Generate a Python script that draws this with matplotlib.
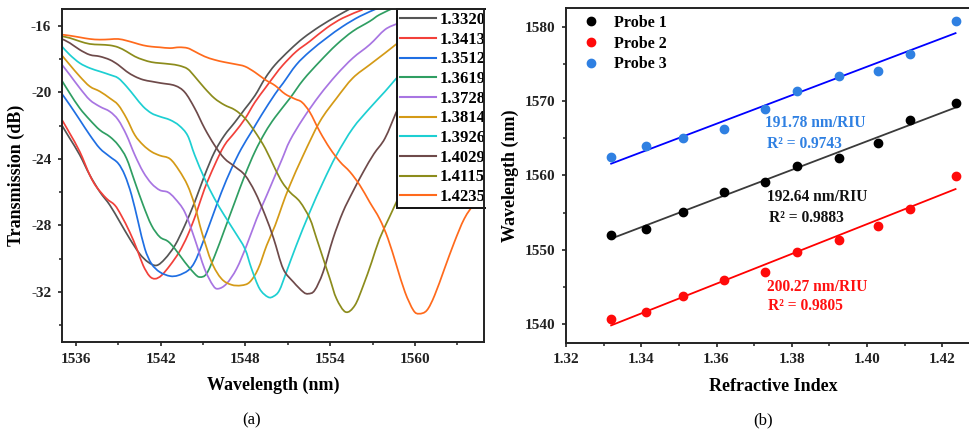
import numpy as np
import matplotlib
matplotlib.use("Agg")
import matplotlib.pyplot as plt
from matplotlib.path import Path
from matplotlib.patches import PathPatch, Rectangle
from matplotlib.lines import Line2D
from matplotlib.ticker import MultipleLocator

plt.rcParams["font.family"] = ["Liberation Serif", "DejaVu Serif"]
plt.rcParams["font.weight"] = "bold"
plt.rcParams["axes.unicode_minus"] = False

# ---------------- (a) transmission spectra ----------------
ri_labels = ["1.3320", "1.3413", "1.3512", "1.3619", "1.3728",
             "1.3814", "1.3926", "1.4029", "1.4115", "1.4235"]
spec_colors = ["#555555", "#F2403A", "#1F6FE3", "#2F9E62", "#A875E2",
               "#D49A16", "#1DCFD2", "#6E4A4A", "#8C8C1C", "#FF6A1C"]

wl_1_3320 = [1535.0, 1535.55, 1536.26, 1536.97, 1537.68, 1538.39, 1539.1, 1539.8, 1540.5, 1541.1,
             1541.7, 1542.3, 1543.0, 1543.7, 1544.4, 1545.1, 1545.8, 1546.5, 1547.25, 1547.96,
             1548.67, 1549.4, 1550.1, 1551.15, 1552.1, 1553.27, 1554.45, 1555.3, 1556.0]
tr_1_3320 = [-22.0, -22.77, -23.77, -24.98, -25.98, -26.78, -27.79, -28.8, -29.7, -30.2,
             -30.4, -30.0, -29.2, -28.0, -26.6, -25.0, -23.6, -22.6, -21.8, -21.0,
             -20.2, -19.15, -18.35, -17.45, -16.74, -16.04, -15.44, -15.04, -14.7]

wl_1_3413 = [1535.0, 1535.55, 1536.26, 1536.97, 1537.44, 1538.15, 1538.74, 1539.2, 1539.8, 1540.3,
             1540.75, 1541.2, 1541.6, 1542.05, 1542.65, 1543.3, 1543.9, 1544.5, 1545.1, 1545.8,
             1546.5, 1547.25, 1547.96, 1548.67, 1549.4, 1550.1, 1550.67, 1551.6, 1552.56, 1553.75,
             1554.9, 1556.3]
tr_1_3413 = [-21.66, -22.47, -23.57, -24.98, -25.68, -26.38, -26.78, -27.4, -28.4, -29.4,
             -30.4, -31.04, -31.2, -31.0, -30.4, -29.6, -28.6, -27.3, -25.8, -24.4,
             -23.2, -22.4, -21.6, -20.6, -19.75, -18.95, -18.35, -17.55, -16.94, -16.14,
             -15.54, -15.04]

wl_1_3512 = [1535.0, 1535.55, 1536.26, 1536.97, 1537.68, 1538.39, 1538.98, 1539.45, 1539.93, 1540.4,
             1540.87, 1541.34, 1541.93, 1542.65, 1543.23, 1543.94, 1544.4, 1544.9, 1545.6, 1546.3,
             1547.0, 1547.7, 1548.43, 1549.14, 1550.1, 1550.67, 1551.6, 1552.56, 1553.75, 1554.9,
             1556.1, 1557.3]
tr_1_3512 = [-20.1, -20.76, -21.66, -22.57, -23.37, -23.87, -24.27, -24.98, -26.18, -27.8,
             -29.4, -30.3, -30.8, -31.04, -31.0, -30.7, -30.2, -29.2, -27.6, -26.0,
             -24.6, -23.4, -22.37, -21.36, -20.1, -19.45, -18.35, -17.55, -16.74, -16.04,
             -15.44, -14.98]

wl_1_3619 = [1535.0, 1535.55, 1536.26, 1536.97, 1537.68, 1538.39, 1538.98, 1539.57, 1540.16, 1540.75,
             1541.34, 1541.93, 1542.5, 1543.0, 1543.7, 1544.4, 1544.77, 1545.24, 1545.83, 1546.54,
             1547.25, 1547.96, 1548.67, 1549.4, 1550.1, 1551.15, 1552.1, 1553.27, 1554.45, 1555.6,
             1556.8, 1557.5, 1558.6]
tr_1_3619 = [-19.31, -20.06, -20.96, -21.66, -22.27, -22.67, -23.17, -23.97, -25.38, -26.78,
             -27.99, -28.69, -28.95, -29.4, -30.2, -30.9, -31.1, -30.9, -29.8, -28.2,
             -26.58, -24.98, -23.57, -22.4, -21.5, -20.36, -19.25, -18.15, -17.14, -16.34,
             -15.74, -15.34, -14.9]

wl_1_3728 = [1535.0, 1535.55, 1536.26, 1536.97, 1537.68, 1538.39, 1538.98, 1539.57, 1540.16, 1540.75,
             1541.34, 1541.93, 1542.5, 1543.0, 1543.7, 1544.4, 1545.1, 1545.7, 1546.07, 1546.66,
             1547.37, 1548.08, 1548.79, 1549.5, 1550.1, 1550.6, 1551.15, 1552.1, 1553.27, 1554.45,
             1555.6, 1556.8, 1557.88, 1558.7]
tr_1_3728 = [-18.35, -18.95, -19.75, -20.46, -20.86, -21.16, -21.66, -22.57, -23.77, -24.78,
             -25.48, -25.88, -26.0, -26.38, -27.2, -28.8, -30.6, -31.6, -31.8, -31.5,
             -30.6, -29.2, -27.6, -26.2, -25.0, -24.0, -22.9, -21.56, -20.16, -18.95,
             -17.95, -17.14, -16.24, -15.9]

wl_1_3814 = [1535.0, 1535.55, 1536.26, 1536.97, 1537.68, 1538.39, 1538.98, 1539.57, 1540.16, 1540.75,
             1541.34, 1541.93, 1542.65, 1543.3, 1543.9, 1544.4, 1544.9, 1545.6, 1546.3, 1547.0,
             1547.7, 1548.3, 1548.9, 1549.5, 1550.1, 1550.6, 1551.15, 1552.1, 1553.27, 1554.45,
             1555.6, 1556.8, 1557.88, 1558.7]
tr_1_3814 = [-17.79, -18.35, -19.05, -19.65, -19.95, -20.36, -20.76, -21.56, -22.57, -23.17,
             -23.57, -23.8, -24.0, -24.7, -25.6, -26.78, -28.39, -30.2, -31.2, -31.56,
             -31.6, -31.4, -30.6, -29.2, -28.0, -26.8, -25.58, -23.77, -21.76, -20.36,
             -19.15, -18.35, -17.65, -17.1]

wl_1_3926 = [1535.0, 1535.55, 1536.26, 1536.97, 1537.68, 1538.39, 1538.98, 1539.57, 1540.16, 1540.75,
             1541.34, 1541.93, 1542.65, 1543.3, 1543.9, 1544.4, 1545.1, 1545.8, 1546.5, 1547.25,
             1547.96, 1548.43, 1549.0, 1549.6, 1550.0, 1550.4, 1550.9, 1551.6, 1552.56, 1553.51,
             1554.45, 1555.6, 1556.8, 1557.88, 1558.7]
tr_1_3926 = [-17.25, -17.75, -18.25, -18.55, -18.75, -18.95, -19.15, -19.65, -20.26, -20.86,
             -21.26, -21.46, -21.66, -22.0, -22.6, -23.77, -25.18, -26.38, -27.39, -28.39,
             -29.4, -30.6, -31.8, -32.3, -32.25, -31.9, -30.8, -29.2, -27.19, -25.38,
             -23.77, -22.17, -20.96, -19.96, -19.15]

wl_1_4029 = [1535.0, 1535.55, 1536.26, 1536.97, 1537.68, 1538.39, 1538.98, 1539.57, 1540.16, 1540.75,
             1541.34, 1542.0, 1543.0, 1543.7, 1544.4, 1545.1, 1545.8, 1546.5, 1547.25, 1547.96,
             1548.67, 1549.4, 1550.0, 1550.67, 1551.4, 1552.1, 1552.45, 1552.9, 1553.5, 1554.2,
             1554.9, 1555.6, 1556.35, 1557.1, 1557.88, 1558.7]
tr_1_4029 = [-16.8, -17.04, -17.45, -17.75, -17.85, -18.05, -18.35, -18.75, -19.05, -19.25,
             -19.35, -19.45, -19.6, -20.0, -20.96, -22.16, -23.17, -23.97, -24.47, -24.98,
             -25.98, -27.4, -28.8, -30.6, -31.4, -32.0, -32.1, -31.9, -30.8, -28.8,
             -27.2, -25.98, -24.78, -23.7, -22.77, -21.16]

wl_1_4115 = [1535.0, 1535.55, 1536.26, 1536.97, 1537.68, 1538.39, 1538.98, 1539.57, 1540.16, 1540.75,
             1541.34, 1541.93, 1542.65, 1543.3, 1543.9, 1544.4, 1545.1, 1545.8, 1546.5, 1547.25,
             1547.96, 1548.67, 1549.4, 1550.1, 1550.6, 1551.15, 1551.86, 1552.56, 1553.04, 1553.51,
             1553.98, 1554.45, 1555.1, 1555.75, 1556.35, 1556.94, 1557.5, 1558.2, 1558.8]
tr_1_4115 = [-16.64, -16.74, -16.94, -17.1, -17.14, -17.18, -17.3, -17.55, -17.85, -18.05,
             -18.19, -18.25, -18.31, -18.4, -18.6, -19.05, -19.75, -20.36, -20.76, -21.06,
             -21.56, -22.37, -23.37, -24.6, -25.4, -26.0, -26.58, -27.59, -28.79, -30.0,
             -31.2, -32.4, -33.2, -32.8, -31.6, -30.2, -28.8, -27.5, -26.4]

wl_1_4235 = [1535.0, 1535.55, 1536.26, 1536.97, 1537.68, 1538.39, 1538.98, 1539.57, 1540.16, 1540.75,
             1541.34, 1541.93, 1542.65, 1543.3, 1543.9, 1544.4, 1545.1, 1545.8, 1546.5, 1547.25,
             1547.96, 1548.67, 1549.4, 1550.1, 1550.8, 1551.5, 1552.0, 1552.56, 1553.27, 1553.98,
             1554.69, 1555.4, 1556.1, 1556.8, 1557.5, 1558.1, 1558.7, 1559.3, 1559.9, 1560.3,
             1560.85, 1561.4, 1562.1, 1562.8, 1563.5, 1564.26, 1564.9]
tr_1_4235 = [-16.54, -16.6, -16.7, -16.8, -16.84, -16.82, -16.8, -16.9, -17.04, -17.18,
             -17.26, -17.3, -17.35, -17.3, -17.35, -17.55, -17.85, -18.05, -18.19, -18.31,
             -18.45, -18.8, -19.25, -19.6, -20.1, -20.4, -20.6, -21.2, -22.37, -23.37,
             -24.17, -24.78, -25.58, -26.6, -27.6, -28.8, -30.4, -32.0, -33.1, -33.3,
             -33.1, -32.2, -30.6, -29.0, -27.6, -26.58, -25.5]

spectra = [(wl_1_3320, tr_1_3320), (wl_1_3413, tr_1_3413), (wl_1_3512, tr_1_3512),
           (wl_1_3619, tr_1_3619), (wl_1_3728, tr_1_3728), (wl_1_3814, tr_1_3814),
           (wl_1_3926, tr_1_3926), (wl_1_4029, tr_1_4029), (wl_1_4115, tr_1_4115),
           (wl_1_4235, tr_1_4235)]

# ---------------- (b) dip wavelength vs refractive index ----------------
refractive_index = [1.3320, 1.3413, 1.3512, 1.3619, 1.3728, 1.3814, 1.3926, 1.4029, 1.4115, 1.4235]
probe1 = [1552.0, 1552.75, 1555.1, 1557.7, 1559.1, 1561.25, 1562.3, 1564.4, 1567.5, 1569.7]
probe2 = [1540.75, 1541.65, 1543.75, 1545.9, 1547.0, 1549.7, 1551.3, 1553.2, 1555.5, 1559.9]
probe3 = [1562.5, 1563.9, 1564.97, 1566.2, 1568.9, 1571.4, 1573.3, 1574.0, 1576.3, 1580.75]
sensitivity = [192.64, 200.27, 191.78]
r_squared = ["0.9883", "0.9805", "0.9743"]
probe_names = ["Probe 1", "Probe 2", "Probe 3"]
point_colors = ["#000000", "#FF0A0A", "#2F80E2"]
fit_colors = ["#3A3A3A", "#FF0000", "#0000FF"]
text_colors = ["#111111", "#FF1010", "#2F80E2"]


def smooth_path(x, y):
    """Catmull-Rom style cubic Bezier path through the given points."""
    pts = np.column_stack([x, y]).astype(float)
    n = len(pts)
    verts = [pts[0]]
    codes = [Path.MOVETO]
    for i in range(n - 1):
        p0 = pts[i - 1] if i > 0 else pts[i]
        p1, p2 = pts[i], pts[i + 1]
        p3 = pts[i + 2] if i + 2 < n else pts[i + 1]
        verts += [p1 + (p2 - p0) / 6.0, p2 - (p3 - p1) / 6.0, p2]
        codes += [Path.CURVE4] * 3
    return Path(verts, codes)


W, H = 969, 430
fig = plt.figure(figsize=(W / 100, H / 100), dpi=100)


def axes_px(x0, y0, x1, y1, **kw):
    return fig.add_axes([x0 / W, 1 - y1 / H, (x1 - x0) / W, (y1 - y0) / H], **kw)


def style_axes(ax):
    for s in ax.spines.values():
        s.set_linewidth(1.4)
        s.set_color("#222222")
    ax.tick_params(which="major", direction="out", length=3.2, width=1.2,
                   labelsize=11, pad=4.5, colors="#222222")
    ax.tick_params(which="minor", direction="out", length=2.2, width=1.1, colors="#222222")
    for lab in ax.get_xticklabels() + ax.get_yticklabels():
        lab.set_fontweight("bold")


# ----- panel (a)
ax1 = axes_px(62, 9, 484, 342, zorder=1)
handles = []
for (wl, tr), c, lab in zip(spectra, spec_colors, ri_labels):
    patch = PathPatch(smooth_path(wl, tr), facecolor="none", edgecolor=c, lw=1.25,
                      transform=ax1.transData)
    ax1.add_patch(patch)
    handles.append(Line2D([], [], color=c, lw=1.5, label=lab))
ax1.set_xlim(1535.0, 1564.9)
ax1.set_ylim(-35, -15)
ax1.xaxis.set_major_locator(MultipleLocator(6))
ax1.xaxis.set_minor_locator(MultipleLocator(3))
ax1.set_yticks([-16, -20, -24, -28, -32])
ax1.set_yticks([-18, -22, -26, -30, -34], minor=True)
style_axes(ax1)
ax1.set_xlabel("Wavelength (nm)", fontsize=13, fontweight="bold", labelpad=8)
ax1.set_ylabel("Transmission (dB)", fontsize=13, fontweight="bold", labelpad=4)
ax1.spines["right"].set_zorder(6)
ax1.spines["top"].set_zorder(6)
leg1 = ax1.legend(handles=handles, loc="upper left",
                  bbox_to_anchor=((396.5 - 62) / (484 - 62), 1.0),
                  borderaxespad=0, prop={"size": 12, "weight": "bold"},
                  handlelength=2.2, handletextpad=0.2, labelspacing=0.22,
                  borderpad=0.18, frameon=True, fancybox=False)
leg1.get_frame().set_edgecolor("#111111")
leg1.get_frame().set_linewidth(1.4)
leg1.get_frame().set_alpha(1)

# white strip trimming the overflow right of panel (a)
fig.add_artist(Rectangle((485.5 / W, 1 - 230 / H), (560 - 485.5) / W, 230 / H,
                         transform=fig.transFigure, facecolor="white",
                         edgecolor="none", zorder=2))

# ----- panel (b)
ax2 = axes_px(566, 8, 980, 342.7, zorder=3)
x_ri = np.array(refractive_index)
for ys, slope, pc, fc, tc, name in zip([probe1, probe2, probe3], sensitivity,
                                       point_colors, fit_colors, text_colors, probe_names):
    ys = np.array(ys)
    intercept = ys.mean() - slope * x_ri.mean()
    xf = np.array([x_ri.min(), x_ri.max()])
    ax2.plot(xf, intercept + slope * xf, color=fc, lw=1.3, zorder=2)
    ax2.plot(x_ri, ys, "o", color=pc, ms=6, mec=pc, ls="none", label=name, zorder=3)

# sensitivity / R^2 annotations
ann_pos = [(1.3734, 1557.1, 1.3740, 1554.3),
           (1.3734, 1545.0, 1.3737, 1542.45),
           (1.3729, 1567.0, 1.3734, 1564.2)]
for (x1, y1, x2, y2), slope, r2, tc in zip(ann_pos, sensitivity, r_squared, text_colors):
    ax2.text(x1, y1, f"{slope:.2f} nm/RIU", color=tc, fontsize=11.2,
             fontweight="bold", va="center", ha="left")
    ax2.text(x2, y2, f"R\u00b2 = {r2}", color=tc, fontsize=11.2,
             fontweight="bold", va="center", ha="left")

ax2.set_xlim(1.32, 1.43)
ax2.set_ylim(1537.5, 1582.5)
ax2.xaxis.set_major_locator(MultipleLocator(0.02))
ax2.xaxis.set_minor_locator(MultipleLocator(0.01))
ax2.yaxis.set_major_locator(MultipleLocator(10))
ax2.yaxis.set_minor_locator(MultipleLocator(5))
ax2.xaxis.set_major_formatter(plt.FuncFormatter(lambda v, p: f"{v:.2f}"))
style_axes(ax2)
ax2.set_xlabel("Refractive Index", fontsize=13, fontweight="bold", labelpad=8)
ax2.set_ylabel("Wavelength (nm)", fontsize=13, fontweight="bold", labelpad=4)
leg2 = ax2.legend(loc="upper left", bbox_to_anchor=(12 / 414, 0.994), borderaxespad=0,
                  prop={"size": 11.5, "weight": "bold"}, handlelength=1.0,
                  handletextpad=0.95, labelspacing=0.3, borderpad=0.3, frameon=False)

# panel captions
fig.text(252 / W, 1 - 420 / H, "(a)", fontsize=12, fontweight="normal", ha="center", va="center")
fig.text(763 / W, 1 - 420 / H, "(b)", fontsize=12, fontweight="normal", ha="center", va="center")

fig.savefig("out.png", dpi=100, facecolor="white")
